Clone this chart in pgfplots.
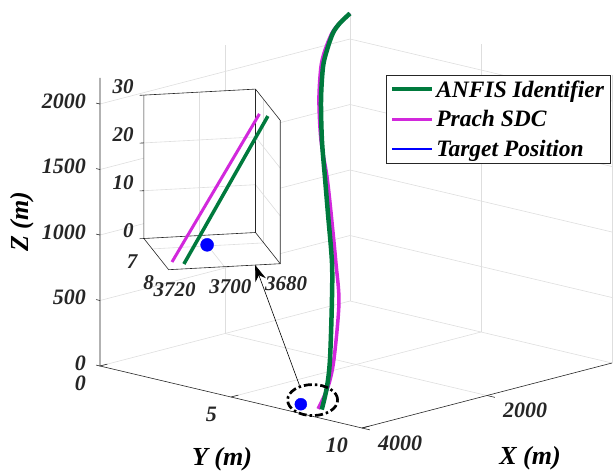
\documentclass[border=0pt]{standalone}
\usepackage{pgfplots}
\pgfplotsset{compat=1.18}
\usepackage{fontspec}
\setmainfont{Liberation Serif}
\usetikzlibrary{arrows.meta}
\definecolor{anfis}{RGB}{0,122,61}
\definecolor{prach}{RGB}{210,40,220}
\definecolor{gridc}{RGB}{222,222,222}
\newcommand{\tl}{\fontsize{22}{26}\selectfont\bfseries\itshape}
\newcommand{\legfont}{\fontsize{23.5}{27}\selectfont\bfseries\itshape}
\newcommand{\il}{\fontsize{21}{25}\selectfont\bfseries\itshape}
\newcommand{\al}{\fontsize{26}{30}\selectfont\bfseries\itshape}
\begin{document}
\begin{tikzpicture}
\begin{axis}[
  at={(0pt,0pt)}, anchor=origin,
  x={(-0.0625pt,-0.01625pt)}, y={(26.2pt,-6.2pt)}, z={(0pt,0.131pt)},
  xmin=0,xmax=4000,ymin=0,ymax=10,zmin=0,zmax=2200,
  hide axis, clip=false,
  legend style={at={(axis cs:0,1.374,1789)}, anchor=north west, draw=black!85, line width=0.6pt, fill=white,
    font=\legfont, inner xsep=4pt, inner ysep=3pt, row sep=8pt, cells={anchor=west}},
  legend image code/.code={\draw[#1] (0pt,0pt) -- (40pt,0pt);},
]
% grid
\pgfplotsinvokeforeach{0,500,1000,1500,2000}{
  \draw[gridc, line width=0.6pt] (axis cs:4000,0,#1) -- (axis cs:0,0,#1) -- (axis cs:0,10,#1);
}
\draw[gridc, line width=0.6pt] (axis cs:2000,0,0) -- (axis cs:2000,0,2200);
\draw[gridc, line width=0.6pt] (axis cs:0,0,0) -- (axis cs:0,0,2200);
\draw[gridc, line width=0.6pt] (axis cs:0,5,0) -- (axis cs:0,5,2200);
\draw[gridc, line width=0.6pt] (axis cs:0,10,0) -- (axis cs:0,10,2200);
\draw[gridc, line width=0.6pt] (axis cs:2000,0,0) -- (axis cs:2000,10,0);
\draw[gridc, line width=0.6pt] (axis cs:4000,5,0) -- (axis cs:0,5,0);
% axis lines
\draw[black!85, line width=0.6pt] (axis cs:4000,0,2200) -- (axis cs:4000,0,0) -- (axis cs:4000,10,0) -- (axis cs:0,10,0);
\pgfplotsinvokeforeach{0,500,1000,1500,2000}{
  \draw[black!85, line width=0.6pt] (axis cs:4000,0,#1) -- (axis cs:4000,-0.15,#1);
  \node[anchor=east, font=\tl, text=black!85, inner sep=0pt] at (axis cs:4000,0,#1) [xshift=-14pt, yshift=3pt] {#1};
}
\pgfplotsinvokeforeach{0,5,10}{
  \draw[black!85, line width=0.6pt] (axis cs:4000,#1,0) -- (axis cs:3880,#1,0);
  \node[anchor=east, font=\tl, text=black!85, inner sep=0pt] at (axis cs:4000,#1,0) [xshift=-14pt, yshift=-17pt] {#1};
}
\pgfplotsinvokeforeach{2000,4000}{
  \draw[black!85, line width=0.6pt] (axis cs:#1,10,0) -- (axis cs:#1,10.3,0);
  \node[anchor=west, font=\tl, text=black!85, inner sep=0pt] at (axis cs:#1,10,0) [xshift=16pt, yshift=-15pt] {#1};
}
\node[xshift=-78pt, font=\al, rotate=90] at (axis cs:4000,0,1100) {Z (m)};
\node[font=\al] at (axis cs:4000,5,0) [xshift=-9pt, yshift=-62pt] {Y (m)};
\node[font=\al] at (axis cs:2000,10,0) [xshift=43pt, yshift=-63pt] {X (m)};
% legend
\addlegendimage{anfis, line width=4pt}
\addlegendentry{ANFIS Identifier}
\addlegendimage{prach, line width=3pt}
\addlegendentry{Prach SDC}
\addlegendimage{blue, line width=2pt}
\addlegendentry{Target Position}
% data
\addplot3[prach, line width=3.5pt, smooth, forget plot] coordinates {
(0,0,2195) (170,0,2140) (288,0,2081) (500,0.24,1989) (700,0.56,1900) (1000,1.20,1715) (1330,2.065,1492) (1600,2.94,1284) (1900,3.81,1088) (2300,4.95,810) (2650,5.90,593) (3100,6.78,256) (3400,7.27,110) (3716.75,7.65,0)
};
\addplot3[anfis, line width=4.5pt, smooth, forget plot] coordinates {
(0,0,2195) (160,0,2142) (272,0,2080) (450,0.195,1981) (650,0.52,1892) (950,1.16,1707) (1300,2.03,1486) (1600,2.86,1280) (1900,3.69,1082) (2300,4.80,803) (2650,5.63,580) (3100,6.63,248) (3400,7.23,107) (3713,7.78,0)
};
\addplot3[only marks, mark=*, mark size=6pt, blue, mark options={fill=blue, draw=blue}, forget plot] coordinates {(3700,6.95,0)};
\draw[black, line width=2.7pt, dash pattern=on 8pt off 3pt on 2.5pt off 3pt] (axis cs:3700,7.4,53) ellipse [x radius=25pt, y radius=15.5pt];
\coordinate (arrA) at (axis cs:3700,6.9,140);
\end{axis}
\begin{axis}[
  at={(-94.5pt,68.5pt)}, anchor=origin,
  x={(-2.79pt,-0.15pt)}, y={(16.5pt,-20.8pt)}, z={(0pt,4.78pt)},
  xmin=3680,xmax=3720,ymin=6.5,ymax=8,zmin=0,zmax=30,
  hide axis, clip=false,
]
\fill[white] (axis cs:3720,6.5,30) -- (axis cs:3680,6.5,30) -- (axis cs:3680,8,30) -- (axis cs:3680,8,0) -- (axis cs:3720,8,0) -- (axis cs:3720,6.5,0) -- cycle;
\pgfplotsinvokeforeach{10,20}{
  \draw[gridc, line width=0.6pt] (axis cs:3720,6.5,#1) -- (axis cs:3680,6.5,#1) -- (axis cs:3680,8,#1);
}
\draw[gridc, line width=0.6pt] (axis cs:3700,6.5,0) -- (axis cs:3700,6.5,30);
\draw[gridc, line width=0.6pt] (axis cs:3680,7,0) -- (axis cs:3680,7,30);
\draw[gridc, line width=0.6pt] (axis cs:3700,6.5,0) -- (axis cs:3700,8,0);
\draw[gridc, line width=0.6pt] (axis cs:3680,7,0) -- (axis cs:3720,7,0);
\draw[black!85, line width=0.6pt] (axis cs:3720,6.5,0) -- (axis cs:3720,6.5,30) -- (axis cs:3680,6.5,30) -- (axis cs:3680,8,30) -- (axis cs:3680,8,0) -- (axis cs:3720,8,0) -- cycle;
\draw[black!85, line width=0.6pt] (axis cs:3680,6.5,30) -- (axis cs:3680,6.5,0) -- (axis cs:3720,6.5,0);
\draw[black!85, line width=0.6pt] (axis cs:3680,6.5,0) -- (axis cs:3680,8,0);
\pgfplotsinvokeforeach{0,10,20,30}{
  \draw[black!85, line width=0.6pt] (axis cs:3720,6.5,#1) -- (axis cs:3721.5,6.5,#1);
  \node[anchor=east, font=\il, text=black!85, inner sep=0pt] at (axis cs:3720,6.5,#1) [xshift=-10pt, yshift=8pt] {#1};
}
\pgfplotsinvokeforeach{7,8}{
  \node[font=\il, text=black!85, inner sep=0pt] at (axis cs:3720,#1,0) [xshift=-20pt, yshift=-13pt] {#1};
}
\pgfplotsinvokeforeach{3680,3700,3720}{
  \node[font=\il, text=black!85, inner sep=0pt] at (axis cs:#1,8,0) [xshift=6pt, yshift=-20pt] {#1};
}
\addplot3[prach, line width=3pt] coordinates {(3716.75,7.653,0) (3685.4,7.653,30)};
\addplot3[anfis, line width=3.5pt] coordinates {(3713.2,7.775,0) (3683.1,7.775,30)};
\addplot3[only marks, mark=*, mark size=6.5pt, blue, mark options={fill=blue, draw=blue}] coordinates {(3700,6.95,0)};
\coordinate (arrB) at (axis cs:3689,8,0);
\end{axis}
\draw[black, line width=0.6pt, -{Stealth[length=16pt, width=11pt]}] (arrA) -- (arrB);
\pgfresetboundingbox
\path[use as bounding box] (-350pt,-171pt) rectangle (263pt,301pt);
\end{tikzpicture}
\end{document}
